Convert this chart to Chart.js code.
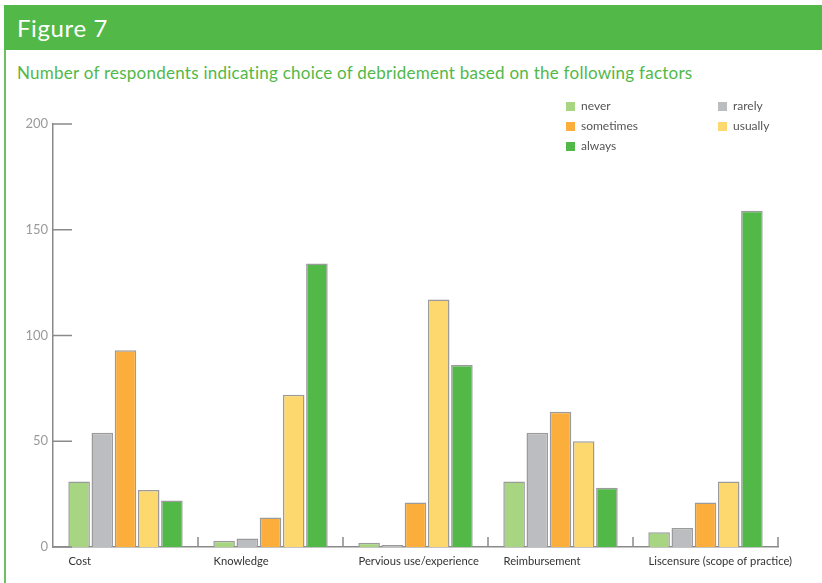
<!DOCTYPE html>
<html>
<head>
<meta charset="utf-8">
<title>Figure 7</title>
<script src="https://cdn.jsdelivr.net/npm/chart.js@4.4.0/dist/chart.umd.min.js"></script>
<style>
  html, body { margin: 0; padding: 0; background: #fff; }
  body { width: 822px; height: 583px; position: relative; overflow: hidden; font-family: "Lato", "DejaVu Sans", sans-serif; }
  .band { position: absolute; left: 4px; top: 5px; width: 818px; height: 45px; background: #52b848; }
  .band span { position: absolute; left: 13px; top: 8px; color: #fff; font-size: 24px; letter-spacing: 0.6px; }
  .edge { position: absolute; left: 4px; top: 50px; width: 1.5px; height: 533px; background: #6cc160; }
  .subtitle { position: absolute; left: 17px; top: 62px; color: #52b848; font-size: 17px; letter-spacing: 0.25px; white-space: nowrap; }
  #chartBox { position: absolute; left: 0; top: 0; width: 822px; height: 583px; }
  #legend { position: absolute; left: 566px; top: 98px; display: grid; grid-template-columns: 152px auto; row-gap: 4px; }
  #legend div { font-size: 12px; color: #555; height: 16px; line-height: 16px; }
  #legend i { display: inline-block; width: 9px; height: 9px; margin-right: 6px; vertical-align: -1px; }
</style>
</head>
<body>
<div class="band"><span>Figure 7</span></div>
<div class="edge"></div>
<div class="subtitle">Number of respondents indicating choice of debridement based on the following factors</div>
<div id="chartBox"><canvas id="factorChart" width="822" height="583"></canvas></div>
<div id="legend"></div>

<script>
// factors asked about
const factors = ["Cost", "Knowledge", "Pervious use/experience", "Reimbursement", "Liscensure (scope of practice)"];

// answer categories and their colours
const answers = ["never", "rarely", "sometimes", "usually", "always"];
const answerColors = ["#a8d582", "#bcbdc0", "#fbae3c", "#fdd86e", "#52b848"];

// number of respondents per factor
const never     = [31, 3, 2, 31, 7];
const rarely    = [54, 4, 1, 54, 9];
const sometimes = [93, 14, 21, 64, 21];
const usually   = [27, 72, 117, 50, 31];
const always    = [22, 134, 86, 28, 159];

const yTicks = [0, 50, 100, 150, 200];

const seriesValues = [never, rarely, sometimes, usually, always];

// legend order: never / rarely, sometimes / usually, always
const legendBox = document.getElementById('legend');
answers.forEach((name, i) => {
    const item = document.createElement('div');
    item.innerHTML = '<i style="background:' + answerColors[i] + '"></i>' + name;
    legendBox.appendChild(item);
});

// short tick marks: y ticks point into the plot, x ticks point up at category edges
const tickMarks = {
    id: 'tickMarks',
    afterDraw(chart) {
        const ctx = chart.ctx;
        const area = chart.chartArea;
        const y = chart.scales.y;
        ctx.save();
        ctx.strokeStyle = '#8a8a8a';
        ctx.lineWidth = 1.5;
        ctx.beginPath();
        yTicks.forEach(v => {
            const py = y.getPixelForValue(v);
            ctx.moveTo(area.left, py);
            ctx.lineTo(area.left + 19, py);
        });
        for (let i = 1; i <= factors.length; i++) {
            const px = area.left + (area.right - area.left) * i / factors.length;
            ctx.moveTo(px, area.bottom);
            ctx.lineTo(px, area.bottom - 10);
        }
        ctx.stroke();
        ctx.restore();
    }
};

const ctx = document.getElementById('factorChart');
new Chart(ctx, {
    type: 'bar',
    data: {
        labels: factors,
        datasets: answers.map((name, i) => ({
            label: name,
            data: seriesValues[i],
            backgroundColor: answerColors[i],
            borderColor: '#9b9b9b',
            borderWidth: 1.5,
            categoryPercentage: 0.8,
            barPercentage: 0.93
        }))
    },
    options: {
        responsive: false,
        animation: false,
        layout: { padding: { top: 124, right: 44, left: 0, bottom: 0 } },
        plugins: {
            legend: { display: false },
            tooltip: { enabled: false }
        },
        scales: {
            x: {
                grid: { display: false, drawTicks: false },
                border: { color: '#8a8a8a', width: 1.5 },
                ticks: {
                    autoSkip: false,
                    maxRotation: 0,
                    minRotation: 0,
                    align: 'start',
                    labelOffset: -57,
                    padding: 8,
                    color: '#333',
                    font: { family: 'Lato', size: 11.2 }
                },
                afterFit(scale) {
                    scale.height = 36;
                    scale.paddingLeft = 0;
                    scale.paddingRight = 0;
                }
            },
            y: {
                min: 0,
                max: 200,
                grid: { display: false, drawTicks: false },
                border: { color: '#8a8a8a', width: 1.5 },
                afterBuildTicks(scale) { scale.ticks = yTicks.map(v => ({ value: v })); },
                ticks: {
                    padding: 5,
                    color: '#9a9a9a',
                    font: { family: 'Lato', size: 13 }
                },
                afterFit(scale) {
                    scale.width = 53;
                    scale.paddingTop = 0;
                    scale.paddingBottom = 0;
                }
            }
        }
    },
    plugins: [tickMarks]
});
</script>
</body>
</html>
